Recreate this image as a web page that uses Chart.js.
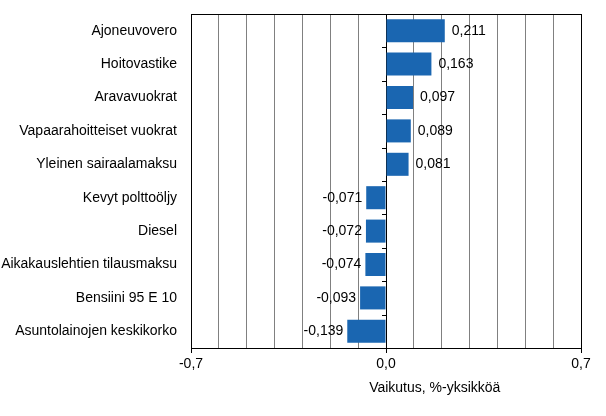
<!DOCTYPE html>
<html><head><meta charset="utf-8">
<script src="https://cdn.jsdelivr.net/npm/chart.js@4"></script>
<style>html,body{margin:0;padding:0;background:#fff}#wrap{width:606px;height:416px}</style>
</head><body><div id="wrap"><canvas id="c"></canvas></div>
<script>
const categories = ["Ajoneuvovero","Hoitovastike","Aravavuokrat","Vapaarahoitteiset vuokrat","Yleinen sairaalamaksu","Kevyt polttoöljy","Diesel","Aikakauslehtien tilausmaksu","Bensiini 95 E 10","Asuntolainojen keskikorko"];
const values = [0.211,0.163,0.097,0.089,0.081,-0.071,-0.072,-0.074,-0.093,-0.139];
const labeledTicks = [-0.7,0,0.7];
const axisTitle = "Vaikutus, %-yksikköä";
const FONT = "'Liberation Sans', Arial, sans-serif";
const fmt = v => v.toFixed(3).replace('.', ',');
const fmtTick = v => v.toFixed(1).replace('.', ',');
const isLabeled = v => labeledTicks.some(t => Math.abs(t - v) < 1e-9);

const extras = {
  id:'extras',
  afterDatasetsDraw(chart){
    const {ctx, chartArea:a, scales:{x,y}} = chart;
    ctx.save();
    const x0 = x.getPixelForValue(0);
    const n = categories.length;
    const step = (a.bottom - a.top)/n;
    ctx.strokeStyle = '#000'; ctx.lineWidth = 1;
    ctx.beginPath();
    for(let i=1;i<n;i++){
      const yy = Math.round(a.top + i*step)+0.5;
      ctx.moveTo(x0-4, yy); ctx.lineTo(x0, yy);
    }
    ctx.stroke();
    ctx.strokeRect(Math.round(a.left)+0.5, Math.round(a.top)+0.5, Math.round(a.right-a.left), Math.round(a.bottom-a.top));
    ctx.font = "14px " + FONT;
    ctx.fillStyle = '#000';
    ctx.textBaseline = 'middle';
    const meta = chart.getDatasetMeta(0);
    meta.data.forEach((bar,i)=>{
      const v = values[i];
      if(v>=0){ ctx.textAlign='left'; ctx.fillText(fmt(v), bar.x+7, bar.y); }
      else { ctx.textAlign='right'; ctx.fillText(fmt(v), bar.x-4, bar.y); }
    });
    ctx.textAlign='center';
    ctx.fillText(axisTitle, x.getPixelForValue(0.175), 388);
    ctx.restore();
  }
};

new Chart(document.getElementById('c'), {
  type:'bar',
  data:{labels:categories, datasets:[{data:values, backgroundColor:'#1a66b1', borderWidth:0, barPercentage:0.69, categoryPercentage:1}]},
  options:{
    indexAxis:'y', responsive:true, maintainAspectRatio:false, animation:false,
    layout:{padding:{top:14,right:25,left:0,bottom:0}},
    plugins:{legend:{display:false}, tooltip:{enabled:false}},
    scales:{
      x:{min:-0.7,max:0.7,
        ticks:{stepSize:0.1, autoSkip:false, maxRotation:0, padding:3, color:'#000', font:{family:FONT,size:14},
          callback:(v)=> isLabeled(v) ? fmtTick(v) : ''},
        grid:{color:c=> Math.abs(c.tick.value)<1e-9 ? '#000' : '#808080', lineWidth:1, tickLength:5,
          tickColor:c=> isLabeled(c.tick.value) ? '#000' : 'rgba(0,0,0,0)'},
        border:{display:false},
        afterFit(s){ s.height = 416-348; s.paddingLeft = 0; s.paddingRight = 0; }
      },
      y:{
        ticks:{color:'#000', font:{family:FONT,size:14}, padding:14, autoSkip:false},
        grid:{display:false, drawTicks:false},
        border:{display:false},
        afterFit(s){ s.width = 191; s.paddingTop = 0; s.paddingBottom = 0; }
      }
    }
  },
  plugins:[extras]
});
</script></body></html>
